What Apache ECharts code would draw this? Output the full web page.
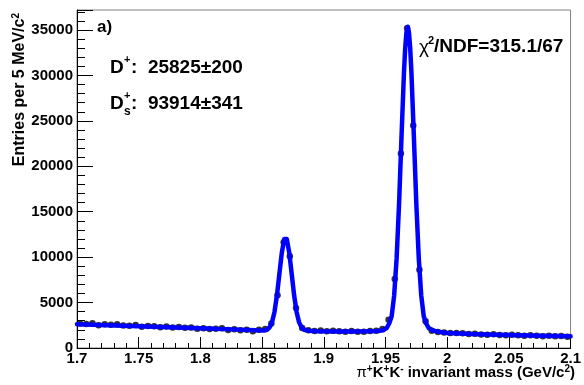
<!DOCTYPE html>
<html><head><meta charset="utf-8">
<script src="https://cdn.jsdelivr.net/npm/echarts@6/dist/echarts.min.js"></script>
<style>html,body{margin:0;padding:0;background:#fff}#c{width:584px;height:385px}</style>
</head><body><div id="c"></div>
<script>
// Histogram: 5 MeV bins from 1.70 to 2.10 GeV/c^2
const binStart = 1.7;
const binWidth = 0.005;
const counts = [
  2700, 2650, 2720, 2500, 2620, 2550, 2620, 2480, 2450, 2520,
  2330, 2420, 2400, 2280, 2370, 2250, 2320, 2230, 2260, 2130,
  2170, 2080, 2120, 2160, 1990, 2060, 1940, 2010, 1830, 2000,
  2080, 2700, 5800, 11650, 10100, 4400, 2200, 1950, 1880, 1920,
  1850, 1900, 1830, 1780, 1860, 1790, 1800, 1860, 1900, 2100,
  3100, 7600, 21400, 35200, 24500, 8600, 2950, 1900, 1760, 1700,
  1660, 1640, 1610, 1550, 1560, 1490, 1460, 1510, 1440, 1400,
  1460, 1390, 1350, 1410, 1350, 1300, 1360, 1300, 1310, 1250
];
// Fit curve
const fitMass = [
  1.700, 1.725, 1.750, 1.775, 1.800, 1.825, 1.845, 1.852, 1.854, 1.856,
  1.858, 1.860, 1.862, 1.864, 1.866, 1.868, 1.869, 1.870, 1.872, 1.874,
  1.876, 1.878, 1.880, 1.882, 1.884, 1.888, 1.895, 1.910, 1.925, 1.935,
  1.944, 1.948, 1.951, 1.953, 1.955, 1.957, 1.959, 1.961, 1.963, 1.965,
  1.966, 1.967, 1.968, 1.969, 1.970, 1.971, 1.973, 1.975, 1.977, 1.979,
  1.981, 1.983, 1.985, 1.988, 1.992, 2.000, 2.025, 2.050, 2.075, 2.100
];
const fitValues = [
  2620, 2500, 2390, 2280, 2170, 2050, 1940, 1930, 2010, 2250,
  2820, 3940, 5760, 8150, 10500, 12000, 12200, 12000, 10500, 8150,
  5760, 3940, 2820, 2250, 2010, 1900, 1850, 1820, 1810, 1830,
  1880, 1950, 2200, 2700, 3500, 5750, 9800, 15850, 23300, 30400,
  33050, 34750, 35350, 34750, 33050, 30400, 23300, 15850, 9800, 5750,
  3500, 2700, 2200, 1950, 1800, 1650, 1520, 1430, 1350, 1280
];
const xTickLabels = ['1.7','1.75','1.8','1.85','1.9','1.95','2','2.05','2.1'];
const yTickLabels = ['0','5000','10000','15000','20000','25000','30000','35000'];

const pts = counts.map((v, i) => [binStart + binWidth * (i + 0.5), v]);
const fit = fitMass.map((m, i) => [m, fitValues[i]]);

const F = 'Liberation Sans, Arial, sans-serif';
const chart = echarts.init(document.getElementById('c'));
chart.setOption({
  animation: false,
  backgroundColor: '#fff',
  grid: { left: 77, right: 9, top: 10, bottom: 37, show: true, borderColor: '#808080', borderWidth: 1 },
  xAxis: {
    type: 'value', min: 1.7, max: 2.1, interval: 0.05,
    axisLine: { show: true, onZero: false, lineStyle: { color: '#000', width: 1 } },
    axisTick: { show: true, inside: true, length: 11, lineStyle: { color: '#000' } },
    minorTick: { show: true, splitNumber: 5, length: 5, lineStyle: { color: '#000' } },
    splitLine: { show: false },
    axisLabel: {
      margin: 3, color: '#000', fontFamily: F, fontWeight: 'bold', fontSize: 15,
      showMinLabel: true, showMaxLabel: true,
      formatter: v => { const k = Math.round((v - 1.7) / 0.05); return xTickLabels[k] !== undefined ? xTickLabels[k] : ''; }
    }
  },
  yAxis: {
    type: 'value', min: 0, max: 37200, interval: 5000,
    axisLine: { show: true, onZero: false, lineStyle: { color: '#000', width: 1 } },
    axisTick: { show: true, inside: true, length: 16, lineStyle: { color: '#000' } },
    minorTick: { show: true, splitNumber: 5, length: 8, lineStyle: { color: '#000' } },
    splitLine: { show: false },
    axisLabel: {
      margin: 4, color: '#000', fontFamily: F, fontWeight: 'bold', fontSize: 15,
      showMaxLabel: false,
      formatter: v => { const k = Math.round(v / 5000); return Math.abs(v - k * 5000) < 1 ? yTickLabels[k] : ''; }
    }
  },
  series: [
    { type: 'scatter', data: pts, symbol: 'circle', symbolSize: 6.5, itemStyle: { color: '#000' }, z: 2 },
    { type: 'line', data: fit, smooth: false, showSymbol: false,
      lineStyle: { color: '#0000ff', width: 4.5, join: 'round', cap: 'round' }, z: 3 }
  ],
  graphic: [
    { type: 'text', x: 97, y: 27, style: { text: 'a)', font: 'bold 17px ' + F, fill: '#000', verticalAlign: 'middle', textVerticalAlign: 'middle' } },
    { type: 'text', x: 110, y: 68, style: { text: 'D', font: 'bold 19px ' + F, fill: '#000', verticalAlign: 'middle', textVerticalAlign: 'middle' } },
    { type: 'text', x: 124, y: 60, style: { text: '+', font: 'bold 11px ' + F, fill: '#000', verticalAlign: 'middle', textVerticalAlign: 'middle' } },
    { type: 'text', x: 131, y: 68, style: { text: ':  25825\u00B1200', font: 'bold 19px ' + F, fill: '#000', verticalAlign: 'middle', textVerticalAlign: 'middle' } },
    { type: 'text', x: 110, y: 104, style: { text: 'D', font: 'bold 19px ' + F, fill: '#000', verticalAlign: 'middle', textVerticalAlign: 'middle' } },
    { type: 'text', x: 124, y: 96, style: { text: '+', font: 'bold 11px ' + F, fill: '#000', verticalAlign: 'middle', textVerticalAlign: 'middle' } },
    { type: 'text', x: 124, y: 112, style: { text: 's', font: 'bold 12px ' + F, fill: '#000', verticalAlign: 'middle', textVerticalAlign: 'middle' } },
    { type: 'text', x: 131, y: 104, style: { text: ':  93914\u00B1341', font: 'bold 19px ' + F, fill: '#000', verticalAlign: 'middle', textVerticalAlign: 'middle' } },
    { type: 'text', x: 419, y: 48, style: { text: '\u03C7', font: '19px ' + F, fill: '#000', verticalAlign: 'middle', textVerticalAlign: 'middle' } },
    { type: 'text', x: 428, y: 41, style: { text: '2', font: 'bold 11px ' + F, fill: '#000', verticalAlign: 'middle', textVerticalAlign: 'middle' } },
    { type: 'text', x: 434, y: 47, style: { text: '/NDF=315.1/67', font: 'bold 19px ' + F, fill: '#000', verticalAlign: 'middle', textVerticalAlign: 'middle' } },
    { type: 'text', x: 575, y: 373, style: {
        text: '{g|\u03C0}{u|+}{t|K}{u|+}{t|K}{u|-}{t| invariant mass (GeV/c}{u|2}{t|)}',
        align: 'right', textAlign: 'right', verticalAlign: 'middle', textVerticalAlign: 'middle',
        rich: {
          t: { font: 'bold 15px ' + F, fill: '#000', color: '#000', lineHeight: 18 },
          g: { font: '15px ' + F, fill: '#000', color: '#000', lineHeight: 18 },
          u: { font: 'bold 10px ' + F, fill: '#000', color: '#000', verticalAlign: 'top', lineHeight: 10 }
        } } },
    { type: 'text', x: 20, y: 13, rotation: Math.PI / 2, style: {
        text: '{t|Entries per 5 MeV/c}{u|2}',
        align: 'right', textAlign: 'right', verticalAlign: 'middle', textVerticalAlign: 'middle',
        rich: {
          t: { font: 'bold 16px ' + F, fill: '#000', color: '#000', lineHeight: 18 },
          u: { font: 'bold 10px ' + F, fill: '#000', color: '#000', verticalAlign: 'top', lineHeight: 10 }
        } } }
  ]
});
</script>
</body></html>
